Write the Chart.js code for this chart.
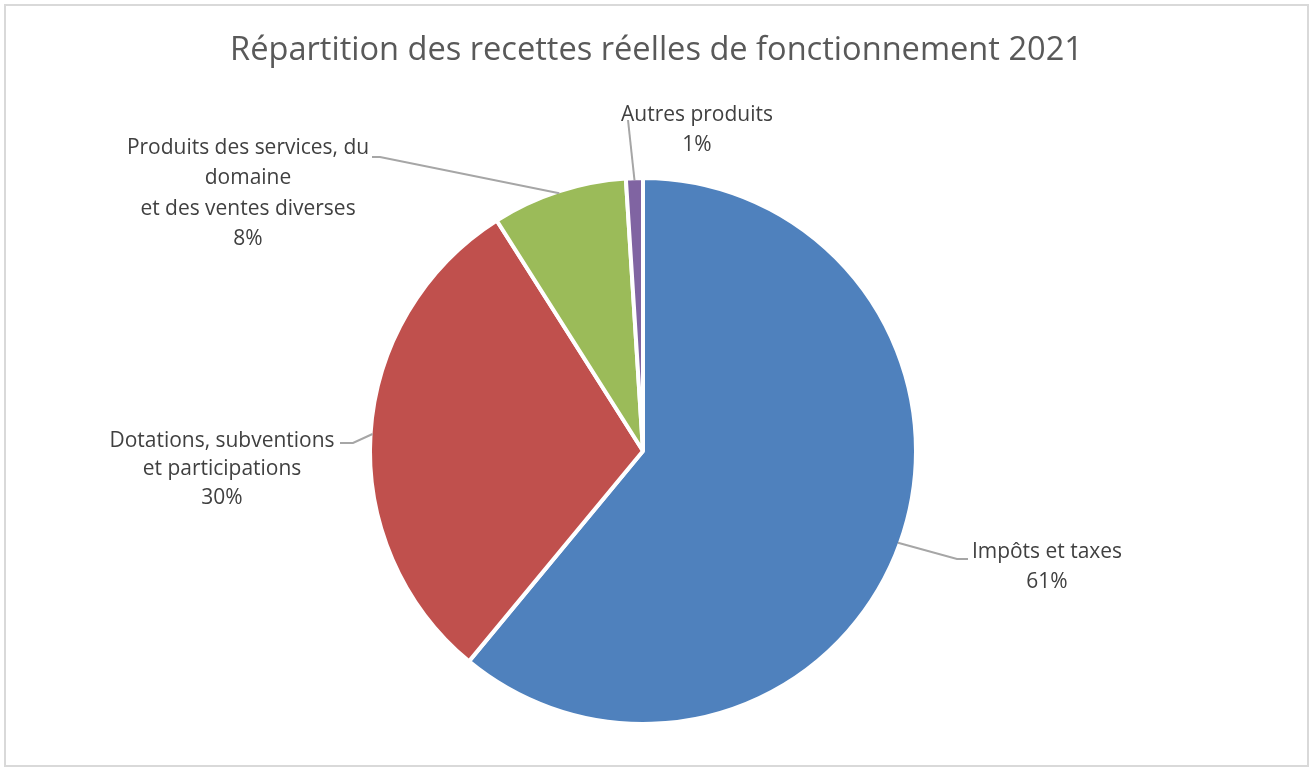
<!DOCTYPE html>
<html>
<head>
<meta charset="utf-8">
<script src="https://cdn.jsdelivr.net/npm/chart.js@4"></script>
<style>
    html, body { margin: 0; padding: 0; background: #ffffff; }
    #wrap { width: 1314px; height: 769px; }
</style>
</head>
<body>
<div id="wrap"><canvas id="recettesChart" width="1314" height="769"></canvas></div>
<script>
// Données
const titleText = "Répartition des recettes réelles de fonctionnement 2021";
const categories = ["Impôts et taxes", "Dotations, subventions et participations", "Produits des services, du domaine et des ventes diverses", "Autres produits"];
const labelLines = [
    ["Impôts et taxes"],
    ["Dotations, subventions", "et participations"],
    ["Produits des services, du", "domaine", "et des ventes diverses"],
    ["Autres produits"]
];
const shares = [61, 30, 8, 1];
const sliceColors = ["#4f81bd", "#c0504d", "#9bbb59", "#8064a2"];

// placement des étiquettes (centre du texte, ligne de rappel)
const labelLayout = [
    { cx: 1047, y0: 552, lh: 30, elbow: [957, 559], end: [968, 559] },
    { cx: 222, y0: 441, lh: 28.5, elbow: [353, 443], end: [340, 443] },
    { cx: 248, y0: 148, lh: 30.5, elbow: [380, 157], end: [372, 157] },
    { cx: 697, y0: 115, lh: 30, elbow: null, end: [628, 120] }
];

const fontFamily = "'Open Sans', 'Noto Sans', sans-serif";

// ajuste la taille de police pour une largeur donnée
function fitSize(text, targetWidth) {
    let c = document.createElement("canvas").getContext("2d");
    c.font = "100px " + fontFamily;
    return 100 * targetWidth / c.measureText(text).width;
}
const titleSize = fitSize(titleText, 853);
const labelSize = (fitSize("Dotations, subventions", 227) + fitSize("Impôts et taxes", 150) + fitSize("Produits des services, du", 241)) / 3;

const frame = {
    id: "frame",
    beforeDraw(chart) {
        let ctx = chart.ctx;
        ctx.save();
        ctx.fillStyle = "#ffffff";
        ctx.fillRect(0, 0, chart.width, chart.height);
        ctx.strokeStyle = "#d9d9d9";
        ctx.lineWidth = 2;
        ctx.strokeRect(5, 5, 1303, 761);

        // titre
        ctx.fillStyle = "#595959";
        ctx.font = titleSize.toFixed(2) + "px " + fontFamily;
        ctx.textAlign = "center";
        ctx.textBaseline = "middle";
        ctx.fillText(titleText, 656.5, 51);
        ctx.restore();
    }
};

const leaderLabels = {
    id: "leaderLabels",
    afterDatasetsDraw(chart) {
        let ctx = chart.ctx;
        let meta = chart.getDatasetMeta(0);
        let total = shares.reduce((a, b) => a + b, 0);
        ctx.save();
        meta.data.forEach((arc, i) => {
            let lay = labelLayout[i];
            let mid = (arc.startAngle + arc.endAngle) / 2;
            let sx = arc.x + Math.cos(mid) * (arc.outerRadius - 2);
            let sy = arc.y + Math.sin(mid) * (arc.outerRadius - 2);

            // ligne de rappel
            ctx.strokeStyle = "#a6a6a6";
            ctx.lineWidth = 2;
            ctx.beginPath();
            ctx.moveTo(sx, sy);
            if (lay.elbow) ctx.lineTo(lay.elbow[0], lay.elbow[1]);
            ctx.lineTo(lay.end[0], lay.end[1]);
            ctx.stroke();

            // texte
            ctx.fillStyle = "#404040";
            ctx.font = labelSize.toFixed(2) + "px " + fontFamily;
            ctx.textAlign = "center";
            ctx.textBaseline = "middle";
            let lines = labelLines[i].concat([Math.round(shares[i] / total * 100) + "%"]);
            lines.forEach((line, j) => {
                ctx.fillText(line, lay.cx, lay.y0 + j * lay.lh);
            });
        });
        ctx.restore();
    }
};

new Chart(document.getElementById("recettesChart"), {
    type: "pie",
    data: {
        labels: categories,
        datasets: [{
            data: shares,
            backgroundColor: sliceColors,
            borderColor: "#ffffff",
            borderWidth: 4,
            hoverOffset: 0
        }]
    },
    options: {
        responsive: false,
        animation: false,
        radius: 273,
        layout: { padding: { left: 0, right: 28, top: 133, bottom: 0 } },
        plugins: {
            legend: { display: false },
            tooltip: { enabled: false },
            title: { display: false }
        }
    },
    plugins: [frame, leaderLabels]
});
</script>
</body>
</html>
